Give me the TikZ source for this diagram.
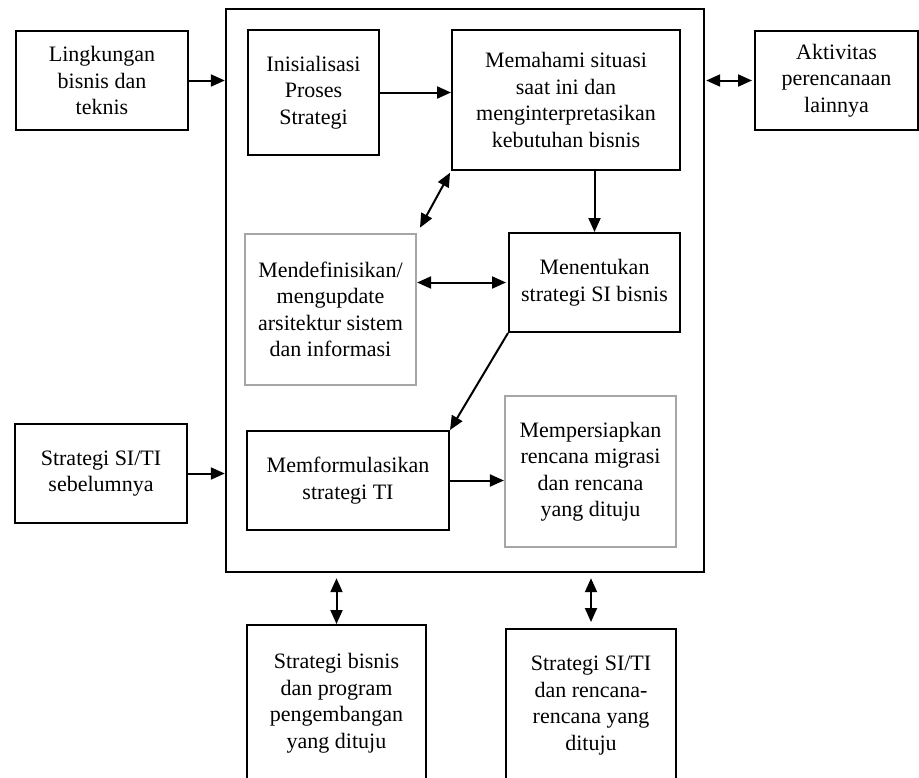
\documentclass[tikz,border=0pt]{standalone}
\usepackage{fontspec}
\setmainfont{Liberation Serif}
\usetikzlibrary{arrows.meta}
\definecolor{boxgray}{RGB}{166,166,166}

\begin{document}
\begin{tikzpicture}[x=0.5pt,y=-0.5pt,
  txt/.style={font=\fontsize{11}{13.25}\selectfont, align=center, inner sep=0pt},
  blackbox/.style={txt, draw, line width=1pt},
  graybox/.style={txt, draw=boxgray, line width=1.1pt},
  arr/.style={line width=1pt, -{Triangle[length=7pt,width=6pt]}},
  darr/.style={line width=1pt, {Triangle[length=7pt,width=6pt]}-{Triangle[length=7pt,width=6pt]}}]

% Page size (pixel units of the reference)
\useasboundingbox (0,0) rectangle (919,777);

% Outer process box
\node[draw, line width=1.2pt, minimum width=239pt, minimum height=281.5pt] (main) at (465,290.5) {};

% Boxes outside the process
\node[blackbox, minimum width=86pt, minimum height=49.5pt] (ling) at (102,80.5) {Lingkungan\\bisnis dan\\teknis};
\node[blackbox, minimum width=86pt, minimum height=49.5pt] (prev) at (101,473.5) {Strategi SI/TI\\sebelumnya};
\node[blackbox, minimum width=81.5pt, minimum height=49.5pt] (akt) at (836.5,80.5) {Aktivitas\\perencanaan\\lainnya};
\node[blackbox, minimum width=89.5pt, minimum height=78pt] (bis) at (336.5,703) {Strategi bisnis\\dan program\\pengembangan\\yang dituju};
\node[blackbox, minimum width=85pt, minimum height=76.5pt] (plan) at (591,705.5) {Strategi SI/TI\\dan rencana-\\rencana yang\\dituju};

% Steps inside the process
\node[blackbox, minimum width=65.5pt, minimum height=62.5pt] (init) at (313.5,92.5) {Inisialisasi\\Proses\\Strategi};
\node[blackbox, minimum width=114pt, minimum height=70pt] (mem) at (566,100) {Memahami situasi\\saat ini dan\\menginterpretasikan\\kebutuhan bisnis};
\node[graybox, minimum width=85.5pt, minimum height=75.5pt] (def) at (330.5,309.5) {Mendefinisikan/\\mengupdate\\arsitektur sistem\\dan informasi};
\node[blackbox, minimum width=85.5pt, minimum height=49.5pt] (ment) at (594.5,282.5) {Menentukan\\strategi SI bisnis};
\node[blackbox, minimum width=101pt, minimum height=49.5pt] (form) at (348,480.5) {Memformulasikan\\strategi TI};
\node[graybox, minimum width=85.5pt, minimum height=75.5pt] (prep) at (590.5,471.5) {Mempersiapkan\\rencana migrasi\\dan rencana\\yang dituju};

% Inputs and outputs of the process
\draw[arr] (ling.east) -- (ling.east -| main.west);
\draw[arr] (prev.east) -- (prev.east -| main.west);
\draw[darr, shorten <=0.5pt, shorten >=1pt] (akt.west -| main.east) -- (akt.west);
\draw[darr, shorten <=2.5pt] (bis.north |- main.south) -- (bis.north);
\draw[darr, shorten <=2.5pt, shorten >=3pt] (plan.north |- main.south) -- (plan.north);

% Flow between the steps
\draw[arr] (init.east) -- (init.east -| mem.west);
\draw[darr, shorten <=1pt, shorten >=3pt] (mem.south west) -- (def.north east);
\draw[arr] (ment.north |- mem.south) -- (ment.north);
\draw[darr, shorten <=1pt] (ment.west) -- (ment.west -| def.east);
\draw[arr] (ment.south west) -- (form.north east);
\draw[arr] (form.east) -- (form.east -| prep.west);

\end{tikzpicture}
\end{document}
